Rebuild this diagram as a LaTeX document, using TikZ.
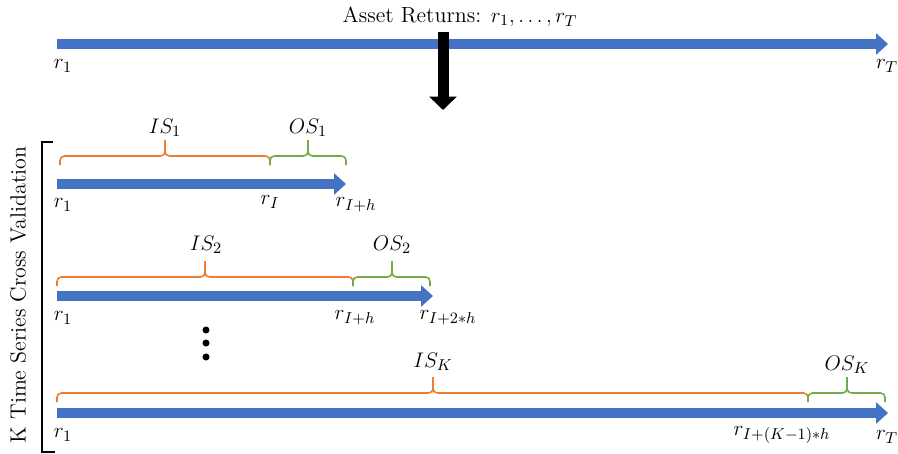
\documentclass[tikz,border=0pt]{standalone}
\usepackage{xcolor}
\usepackage{tikz}
\usetikzlibrary{arrows.meta}
\definecolor{lineblue}{HTML}{4472C4}
\definecolor{isorange}{HTML}{ED7D31}
\definecolor{osgreen}{HTML}{70AD47}

% colour, left end, tip, right end, height
\newcommand{\splitbrace}[5]{%
\draw[#1,bracepen] (#2,#5+9) |- (#3,#5) -- (#3,#5-16);
\draw[#1,bracepen] (#3,#5-16) -- (#3,#5) -| (#4,#5+9);}

\begin{document}
\begin{tikzpicture}[x=0.02cm,y=-0.02cm,
  every node/.style={font=\fontsize{12.5}{15}\selectfont},
  timeline/.style={lineblue,line width=0.2cm,-{Triangle[length=0.24cm,width=0.42cm]}},
  bracepen/.style={line width=0.9pt,rounded corners=2.5pt}]
\useasboundingbox (0,0) rectangle (898,453);
%\draw[step=50,red,thin] (0,0) grid (898,453);

% full sample
\coordinate (s0) at (57,44);
\coordinate (e0) at (888,44);
\draw[timeline] (s0) -- (e0);
\node (title) at (460,17) {Asset Returns: $r_1,\ldots,r_T$};
\node (a1) at (63,66) {$r_1$};
\node (aT) at (887,66) {$r_T$};

\coordinate (d0) at (443,32);
\coordinate (d1) at (443,110);
\draw[black,line width=0.22cm,-{Triangle[length=0.27cm,width=0.54cm]}] (d0) -- (d1);

% split 1
\coordinate (s1) at (57,184);
\coordinate (e1) at (346,184);
\draw[timeline] (s1) -- (e1);
\splitbrace{isorange}{60}{165}{270}{156}
\splitbrace{osgreen}{270}{308}{346}{156}
\node (is1) at (165,128) {$IS_1$};
\node (os1) at (308,128) {$OS_1$};
\node (b1) at (63,205) {$r_1$};
\node (bI) at (270,202) {$r_I$};
\node (bIh) at (356,205) {$r_{I+h}$};

% split 2
\coordinate (s2) at (57,296);
\coordinate (e2) at (433,296);
\draw[timeline] (s2) -- (e2);
\splitbrace{isorange}{57}{205}{353}{277}
\splitbrace{osgreen}{353}{392}{430}{277}
\node (is2) at (206,245) {$IS_2$};
\node (os2) at (392,245) {$OS_2$};
\node (c1) at (63,318) {$r_1$};
\node (cIh) at (355,318) {$r_{I+h}$};
\node (cI2h) at (448,318) {$r_{I+2*h}$};

\fill (206,330) circle (2pt);
\fill (206,343) circle (2pt);
\fill (206,357) circle (2pt);

% split K
\coordinate (s3) at (57,413);
\coordinate (e3) at (888,413);
\draw[timeline] (s3) -- (e3);
\splitbrace{isorange}{57}{433}{808}{393}
\splitbrace{osgreen}{808}{847}{885}{393}
\node (isK) at (433,362) {$IS_K$};
\node (osK) at (847,365) {$OS_K$};
\node (k1) at (63,435) {$r_1$};
\node (kIK) at (782,435) {$r_{I+(K-1)*h}$};
\node (kT) at (887,437) {$r_T$};

% bracket round the K splits
\draw[line width=1pt] (53,142) -- (42,142) -- (42,452) -- (55,452);
\node[rotate=90] (cv) at (18,295) {K Time Series Cross Validation};

\end{tikzpicture}
\end{document}
